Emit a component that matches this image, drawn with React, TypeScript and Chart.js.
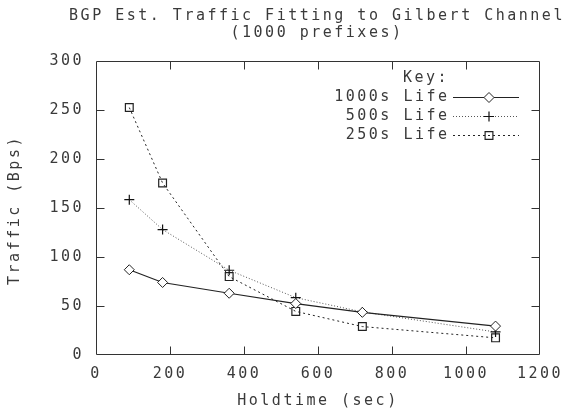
import React, { useEffect, useRef } from 'react';
import { Chart, registerables } from 'chart.js';
import { drawPoint } from 'chart.js/helpers';

Chart.register(...registerables);

// ---- data ----
const holdtimes = [90, 180, 360, 540, 720, 1080];
const life1000 = [87, 74, 63, 52.5, 43.5, 29.5];
const life500 = [158.5, 128, 86.5, 58.5, 44, 23.5];
const life250 = [252.5, 175.5, 80, 44.5, 29, 17.5];
const seriesLabels = ['1000s Life', '500s Life', '250s Life'];
const titleLines = ['BGP Est. Traffic Fitting to Gilbert Channel', '(1000 prefixes)'];
const xTitle = 'Holdtime (sec)';
const yTitle = 'Traffic (Bps)';
const keyTitle = 'Key:';
const xRange = [0, 1200];
const yRange = [0, 300];
const xStep = 200;
const yStep = 50;

const FONT = "'DejaVu Sans Mono', monospace";
const FSIZE = 15;
const LS = '2.5px';
const TEXT = '#3a3a3a';

const toPoints = (ys: number[]) => holdtimes.map((x, i) => ({ x, y: ys[i] }));

const gnuplotPlugin = {
  id: 'gnuplot',
  beforeDraw(chart: any) {
    (chart.ctx as any).letterSpacing = LS;
  },
  afterDraw(chart: any) {
    const ctx = chart.ctx as CanvasRenderingContext2D;
    const ca = chart.chartArea;
    const sx = chart.scales.x;
    const sy = chart.scales.y;
    ctx.save();
    (ctx as any).letterSpacing = LS;

    // frame
    const L = Math.round(ca.left) + 0.5;
    const R = Math.round(ca.right) - 0.5;
    const T = Math.round(ca.top) + 0.5;
    const B = Math.round(ca.bottom) - 0.5;
    ctx.strokeStyle = '#333';
    ctx.lineWidth = 1;
    ctx.setLineDash([]);
    ctx.beginPath();
    ctx.rect(L, T, R - L, B - T);
    const tl = 8;
    sx.ticks.forEach((t: any) => {
      if (t.value <= xRange[0] || t.value >= xRange[1]) return;
      const px = Math.round(sx.getPixelForValue(t.value)) + 0.5;
      ctx.moveTo(px, B);
      ctx.lineTo(px, B - tl);
      ctx.moveTo(px, T);
      ctx.lineTo(px, T + tl);
    });
    sy.ticks.forEach((t: any) => {
      if (t.value <= yRange[0] || t.value >= yRange[1]) return;
      const py = Math.round(sy.getPixelForValue(t.value)) + 0.5;
      ctx.moveTo(L, py);
      ctx.lineTo(L + tl, py);
      ctx.moveTo(R, py);
      ctx.lineTo(R - tl, py);
    });
    ctx.stroke();

    // titles
    ctx.fillStyle = TEXT;
    ctx.font = `${FSIZE}px ${FONT}`;
    ctx.textAlign = 'center';
    ctx.textBaseline = 'middle';
    ctx.fillText(titleLines[0], 317, 16);
    ctx.fillText(titleLines[1], 317, 33);

    // y title
    ctx.save();
    ctx.translate(15, 210);
    ctx.rotate(-Math.PI / 2);
    ctx.fillText(yTitle, 0, 0);
    ctx.restore();

    // key
    ctx.textAlign = 'left';
    ctx.fillText(keyTitle, 403, 78);
    chart.data.datasets.forEach((ds: any, i: number) => {
      const y = 97 + i * 19;
      ctx.fillStyle = TEXT;
      ctx.textAlign = 'right';
      ctx.fillText(ds.label, 449.5, y);
      ctx.save();
      ctx.strokeStyle = ds.borderColor;
      ctx.lineWidth = ds.borderWidth;
      ctx.setLineDash(ds.borderDash || []);
      ctx.beginPath();
      ctx.moveTo(453, y + 0.5);
      ctx.lineTo(519, y + 0.5);
      ctx.stroke();
      ctx.setLineDash([]);
      ctx.strokeStyle = ds.pointBorderColor;
      ctx.fillStyle = ds.pointBackgroundColor;
      ctx.lineWidth = ds.pointBorderWidth;
      drawPoint(ctx, { pointStyle: ds.pointStyle, radius: ds.pointRadius, rotation: 0, borderWidth: ds.pointBorderWidth } as any, 489, y + 0.5);
      ctx.restore();
    });

    ctx.restore();
  },
};

export default function App() {
  const ref = useRef<HTMLCanvasElement | null>(null);
  useEffect(() => {
    document.body.style.margin = '0';
    const canvas = ref.current!;
    const chart = new Chart(canvas, {
      type: 'line',
      data: {
        datasets: [
          {
            label: seriesLabels[0],
            data: toPoints(life1000),
            borderColor: '#222',
            borderWidth: 1.2,
            pointStyle: 'rectRot',
            pointRadius: 5,
            pointBorderColor: '#222',
            pointBackgroundColor: '#fff',
            pointBorderWidth: 1,
            tension: 0,
          },
          {
            label: seriesLabels[1],
            data: toPoints(life500),
            borderColor: '#555',
            borderWidth: 1,
            borderDash: [1, 2],
            pointStyle: 'cross',
            pointRadius: 5,
            pointBorderColor: '#111',
            pointBackgroundColor: 'rgba(0,0,0,0)',
            pointBorderWidth: 1.2,
            tension: 0,
          },
          {
            label: seriesLabels[2],
            data: toPoints(life250),
            borderColor: '#222',
            borderWidth: 1,
            borderDash: [2, 3],
            pointStyle: 'rect',
            pointRadius: 5.5,
            pointBorderColor: '#222',
            pointBackgroundColor: 'rgba(0,0,0,0)',
            pointBorderWidth: 1.2,
            tension: 0,
          },
        ] as any,
      },
      options: {
        responsive: false,
        animation: false,
        devicePixelRatio: 1,
        layout: { padding: { top: 61, right: 27, bottom: 0, left: 0 } },
        plugins: { legend: { display: false }, title: { display: false }, tooltip: { enabled: false } },
        scales: {
          x: {
            type: 'linear',
            min: xRange[0],
            max: xRange[1],
            grid: { display: false, drawTicks: false },
            border: { display: false },
            ticks: {
              stepSize: xStep, padding: 10, color: TEXT, maxRotation: 0,
              font: { family: FONT, size: FSIZE },
              callback: (v: any) => String(v),
            },
            title: { display: true, text: xTitle, color: TEXT, font: { family: FONT, size: FSIZE }, padding: { top: 0, bottom: 0 } },
            afterFit: (s: any) => { s.height = 55; },
          },
          y: {
            type: 'linear',
            min: yRange[0],
            max: yRange[1],
            grid: { display: false, drawTicks: false },
            border: { display: false },
            ticks: {
              stepSize: yStep, padding: 12, color: TEXT,
              font: { family: FONT, size: FSIZE },
              callback: (v: any) => String(v),
            },
            afterFit: (s: any) => { s.width = 96; },
          },
        },
      } as any,
      plugins: [gnuplotPlugin],
    });
    return () => chart.destroy();
  }, []);
  return (
    <div style={{ width: 568, height: 410 }}>
      <canvas ref={ref} width={568} height={410} style={{ width: 568, height: 410, display: 'block' }} />
    </div>
  );
}
